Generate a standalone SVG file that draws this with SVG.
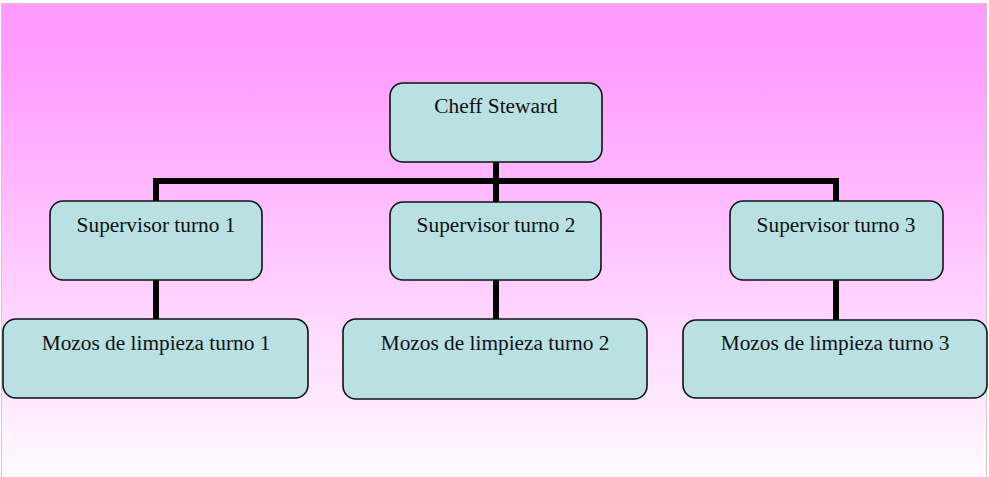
<svg xmlns="http://www.w3.org/2000/svg" width="989" height="477" viewBox="0 0 989 477">
  <defs>
    <linearGradient id="bg" x1="0" y1="0" x2="0" y2="1">
      <stop offset="0" stop-color="#ff99ff"/>
      <stop offset="0.12" stop-color="#ff9cff"/>
      <stop offset="1" stop-color="#fffaff"/>
    </linearGradient>
    <style>
      .box { fill: #b9e0e2; stroke: #111; stroke-width: 1.6; }
      .lbl { font-family: "Liberation Serif", "Times New Roman", serif; font-size: 21.33px; fill: #111; text-anchor: middle; }
      .wire { stroke: #000; stroke-width: 6; fill: none; stroke-linecap: butt; }
    </style>
  </defs>

  <!-- backdrop with a faint edge on top and sides -->
  <rect x="1.5" y="3.5" width="985" height="473.5" fill="url(#bg)"/>
  <path d="M1.5 477 V3.5 H986.5 V477" fill="none" stroke="#c0c0c0" stroke-width="0.8"/>

  <!-- connectors -->
  <g id="connectors">
    <path class="wire" d="M496 162 V181"/>
    <path class="wire" d="M153 181 H839"/>
    <path class="wire" d="M156 181 V201"/>
    <path class="wire" d="M496 181 V202"/>
    <path class="wire" d="M836 181 V201"/>
    <path class="wire" d="M156 280 V319"/>
    <path class="wire" d="M496 280 V319"/>
    <path class="wire" d="M836 280 V320"/>
  </g>

  <g id="cheff-steward">
    <rect class="box" x="390" y="83" width="212" height="79" rx="13"/>
    <text class="lbl" x="496" y="113">Cheff Steward</text>
  </g>

  <g id="supervisor-1">
    <rect class="box" x="50" y="201" width="212" height="79" rx="13"/>
    <text class="lbl" x="156" y="232">Supervisor turno 1</text>
  </g>
  <g id="supervisor-2">
    <rect class="box" x="390" y="202" width="211" height="78" rx="13"/>
    <text class="lbl" x="496" y="232">Supervisor turno 2</text>
  </g>
  <g id="supervisor-3">
    <rect class="box" x="730" y="201" width="213" height="79" rx="13"/>
    <text class="lbl" x="836" y="232">Supervisor turno 3</text>
  </g>

  <g id="mozos-1">
    <rect class="box" x="3" y="319" width="305" height="79" rx="13"/>
    <text class="lbl" x="156" y="350">Mozos de limpieza turno 1</text>
  </g>
  <g id="mozos-2">
    <rect class="box" x="343" y="319" width="304" height="80" rx="13"/>
    <text class="lbl" x="495" y="350">Mozos de limpieza turno 2</text>
  </g>
  <g id="mozos-3">
    <rect class="box" x="683" y="320" width="304" height="78" rx="13"/>
    <text class="lbl" x="835" y="350">Mozos de limpieza turno 3</text>
  </g>
</svg>
